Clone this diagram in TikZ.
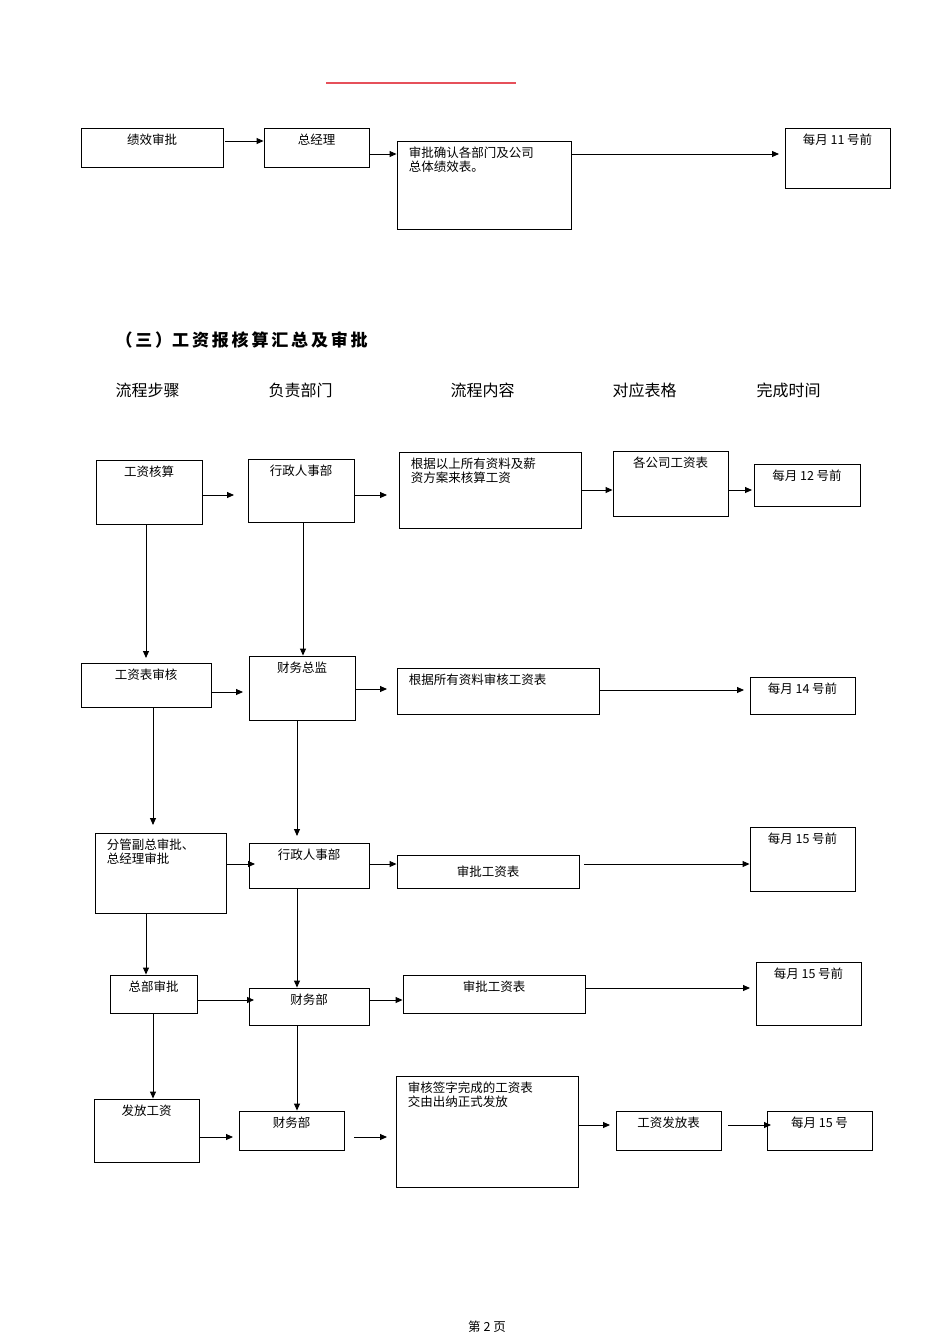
\documentclass[tikz,border=0pt]{standalone}
\usepackage{fontspec}
\setmainfont{Noto Sans CJK SC}
\usetikzlibrary{arrows.meta}
\definecolor{rl}{RGB}{230,80,90}
\tikzset{box/.style={draw,line width=0.9pt,inner sep=0pt},
 arr/.style={line width=0.9pt,-{Triangle[length=7pt,width=6pt]}},
 t/.style={font=\fontsize{12.5}{14}\selectfont,inner sep=0pt,align=left}}
\newcommand{\bx}[6]{\node[box,minimum width={#4-#2},minimum height={#5-#3}] (#1) at ({(#2+#4)/2},{(#3+#5)/2}) {};
 \node[t,anchor=north] at ([yshift=-6pt]#1.north) {#6};}
\newcommand{\bl}[6]{\node[box,minimum width={#4-#2},minimum height={#5-#3}] (#1) at ({(#2+#4)/2},{(#3+#5)/2}) {};
 \node[t,anchor=north west] at ([xshift=12pt,yshift=-6pt]#1.north west) {#6};}
\begin{document}
\begin{tikzpicture}[x=1pt,y=-1pt]
\useasboundingbox (0,0) rectangle (950,1344);
\draw[rl,line width=1.2pt] (326,83) -- (516,83);
\bx{A1}{81}{128}{223}{167}{绩效审批}
\bx{A2}{264}{128}{369}{167}{总经理}
\bl{A3}{397}{141}{571}{229}{审批确认各部门及公司\\总体绩效表。}
\bx{A4}{785}{128}{890}{188}{每月 11 号前}
\draw[arr] (225,141) -- (A2.west|-0,141);
\draw[arr] (A2.east|-0,154) -- (A3.west|-0,154);
\draw[arr] (A3.east|-0,154) -- (779,154);
\node[anchor=west,font=\fontsize{17}{20}\selectfont\bfseries] at (112,340) {（\,三\,）工\,资\,报\,核\,算\,汇\,总\,及\,审\,批};
\foreach \x/\s in {112/流程步骤,265/负责部门,447/流程内容,609/对应表格,753/完成时间}
 \node[anchor=west,font=\fontsize{16}{18}\selectfont] at (\x,390) {\s};
\bx{B1}{96}{460}{202}{524}{工资核算}
\bx{B2}{248}{459}{354}{522}{行政人事部}
\bl{B3}{399}{452}{581}{528}{根据以上所有资料及薪\\资方案来核算工资}
\bx{B4}{613}{451}{728}{516}{各公司工资表}
\bx{B5}{754}{464}{860}{506}{每月 12 号前}
\draw[arr] (B1.east|-0,495) -- (234,495);
\draw[arr] (B2.east|-0,495) -- (387,495);
\draw[arr] (B3.east|-0,490) -- (B4.west|-0,490);
\draw[arr] (B4.east|-0,490) -- (752,490);
\bx{C1}{81}{663}{211}{707}{工资表审核}
\bx{C2}{249}{656}{355}{720}{财务总监}
\bl{C3}{397}{668}{599}{714}{根据所有资料审核工资表}
\bx{C4}{750}{677}{855}{714}{每月 14 号前}
\draw[arr] (B1.south-|146,0) -- (146,658);
\draw[arr] (B2.south-|303,0) -- (C2.north-|303,0);
\draw[arr] (C1.east|-0,692) -- (243,692);
\draw[arr] (C2.east|-0,689) -- (387,689);
\draw[arr] (C3.east|-0,690) -- (744,690);
\bl{D1}{95}{833}{226}{913}{分管副总审批、\\总经理审批}
\bx{D2}{249}{843}{369}{888}{行政人事部}
\node[box,minimum width=182,minimum height=33] (D3) at (488,871.5) {};
\node[t] at (D3) {审批工资表};
\bx{D4}{750}{827}{855}{891}{每月 15 号前}
\draw[arr] (C1.south-|153,0) -- (153,825);
\draw[arr] (C2.south-|297,0) -- (297,836);
\draw[arr] (D1.east|-0,864) -- (255,864);
\draw[arr] (D2.east|-0,864) -- (D3.west|-0,864);
\draw[arr] (584,864) -- (D4.west|-0,864);
\bx{E1}{110}{975}{197}{1013}{总部审批}
\bx{E2}{249}{988}{369}{1025}{财务部}
\bx{E3}{403}{975}{585}{1013}{审批工资表}
\bx{E4}{756}{962}{861}{1025}{每月 15 号前}
\draw[arr] (D1.south-|146,0) -- (E1.north-|146,0);
\draw[arr] (D2.south-|297,0) -- (E2.north-|297,0);
\draw[arr] (E1.east|-0,1000) -- (254,1000);
\draw[arr] (E2.east|-0,1000) -- (E3.west|-0,1000);
\draw[arr] (E3.east|-0,988) -- (750,988);
\bx{F1}{94}{1099}{199}{1162}{发放工资}
\bx{F2}{239}{1111}{344}{1150}{财务部}
\bl{F3}{396}{1076}{578}{1187}{审核签字完成的工资表\\交由出纳正式发放}
\bx{F4}{616}{1111}{721}{1150}{工资发放表}
\bx{F5}{767}{1111}{872}{1150}{每月 15 号}
\draw[arr] (E1.south-|153,0) -- (F1.north-|153,0);
\draw[arr] (E2.south-|297,0) -- (F2.north-|297,0);
\draw[arr] (F1.east|-0,1137) -- (233,1137);
\draw[arr] (354,1137) -- (387,1137);
\draw[arr] (F3.east|-0,1125) -- (610,1125);
\draw[arr] (728,1125) -- (771,1125);
\node[t] at (487,1327) {第 2 页};
\end{tikzpicture}
\end{document}
